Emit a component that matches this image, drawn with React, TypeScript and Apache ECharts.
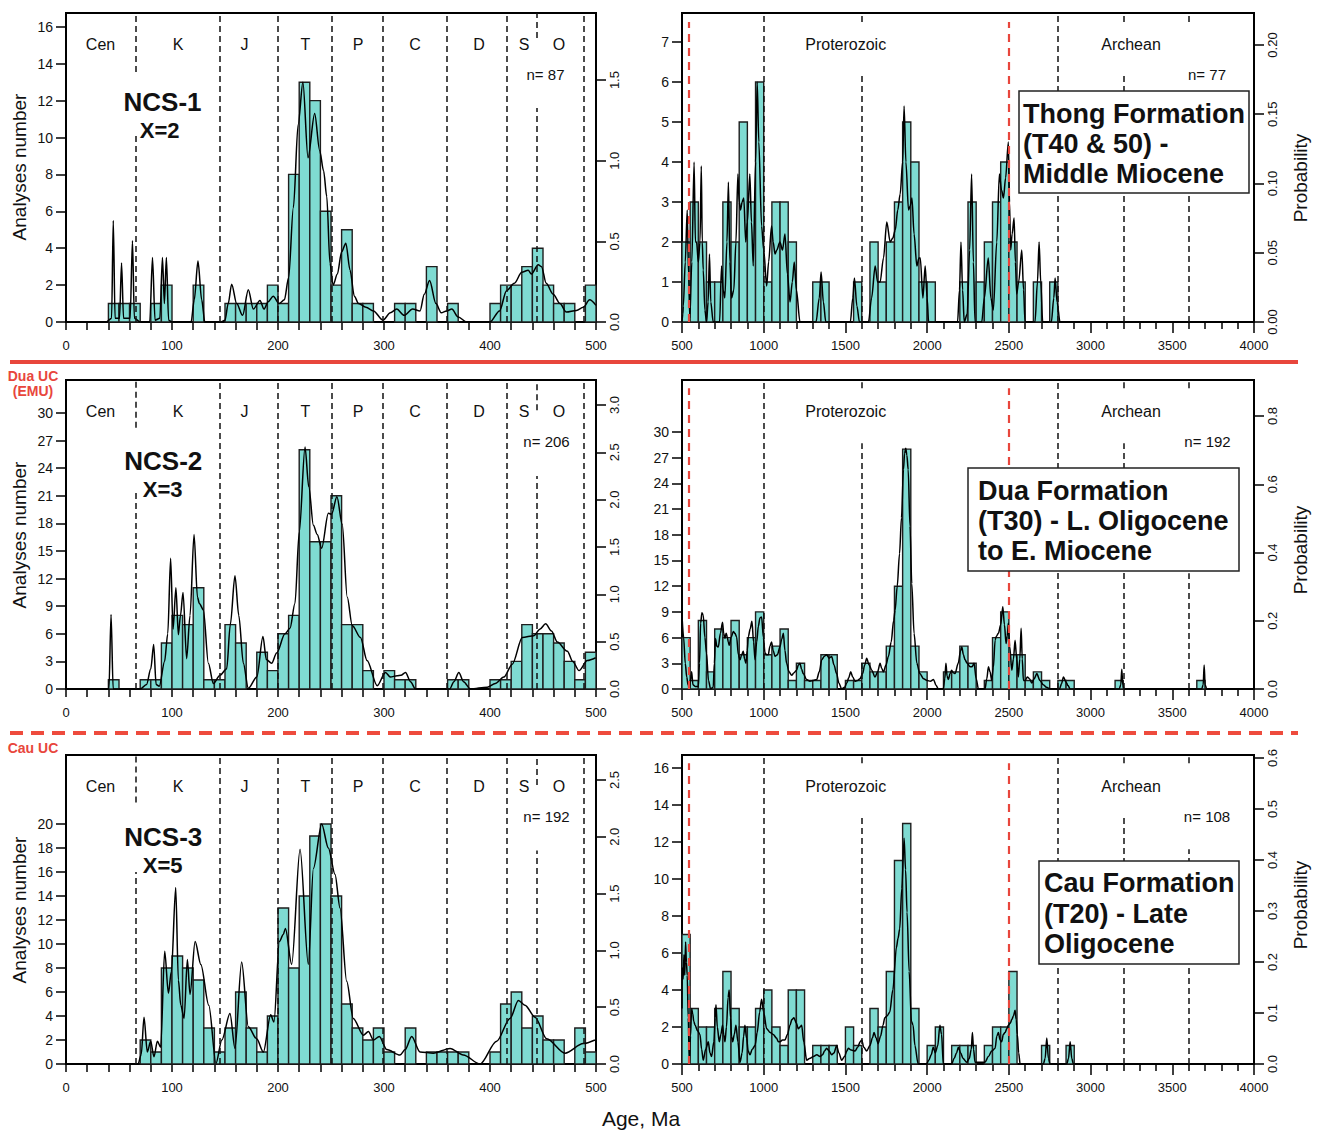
import React, { useEffect, useRef } from "react";
import * as echarts from "echarts";

const FONT = "'Liberation Sans', Arial, Helvetica, sans-serif";
const BAR_FILL = "#7fdbd2";
const BAR_STROKE = "#1e1e1e";
const RED = "#e8463c";

// ---------- tick labels ----------
const LEFT_AGE_LABELS = [0, 100, 200, 300, 400, 500];
const RIGHT_AGE_LABELS = [500, 1000, 1500, 2000, 2500, 3000, 3500, 4000];

const NCS1_COUNT_TICKS = [0, 2, 4, 6, 8, 10, 12, 14, 16];
const THONG_COUNT_TICKS = [0, 1, 2, 3, 4, 5, 6, 7];
const NCS2_COUNT_TICKS = [0, 3, 6, 9, 12, 15, 18, 21, 24, 27, 30];
const DUA_COUNT_TICKS = [0, 3, 6, 9, 12, 15, 18, 21, 24, 27, 30];
const NCS3_COUNT_TICKS = [0, 2, 4, 6, 8, 10, 12, 14, 16, 18, 20];
const CAU_COUNT_TICKS = [0, 2, 4, 6, 8, 10, 12, 14, 16];

const NCS1_PROB_TICKS = [0, 0.5, 1, 1.5];
const THONG_PROB_TICKS = [0, 0.05, 0.1, 0.15, 0.2];
const NCS2_PROB_TICKS = [0, 0.5, 1, 1.5, 2, 2.5, 3];
const DUA_PROB_TICKS = [0, 0.2, 0.4, 0.6, 0.8];
const NCS3_PROB_TICKS = [0, 0.5, 1, 1.5, 2, 2.5];
const CAU_PROB_TICKS = [0, 0.1, 0.2, 0.3, 0.4, 0.5, 0.6];

// ---------- time-scale boundaries (Ma) ----------
const PHANEROZOIC_BOUNDARIES = [65.5, 145.5, 199.6, 251, 299, 359.2, 416, 443.7, 488.3];
const PRECAMBRIAN_BOUNDARIES = [542, 1000, 1600, 2500, 2800, 3200, 3600];
const RED_BOUNDARIES = [542, 2500];
const PERIOD_NAMES = ["Cen", "K", "J", "T", "P", "C", "D", "S", "O"];
const EON_NAMES = ["Proterozoic", "Archean"];

// ---------- histogram bins (bin start age, count) ----------
const ncs1Starts = [40, 50, 60, 80, 90, 120, 150, 160, 170, 180, 190, 200, 210, 220, 230, 240, 250, 260, 270, 280, 310, 320, 340, 360, 400, 410, 420, 430, 440, 450, 460, 470, 490];
const ncs1Counts = [1, 1, 1, 1, 2, 2, 1, 1, 1, 1, 2, 1, 8, 13, 12, 6, 2, 5, 1, 1, 1, 1, 3, 1, 1, 2, 2, 3, 4, 2, 1, 1, 2];

const ncs2Starts = [40, 70, 80, 90, 100, 110, 120, 130, 140, 150, 160, 180, 190, 200, 210, 220, 230, 240, 250, 260, 270, 280, 300, 310, 320, 360, 370, 400, 410, 420, 430, 440, 450, 460, 470, 480, 490];
const ncs2Counts = [1, 1, 1, 5, 8, 7, 11, 1, 1, 7, 5, 4, 2, 6, 8, 26, 16, 16, 21, 7, 7, 2, 2, 1, 1, 1, 1, 1, 1, 3, 7, 6, 6, 5, 3, 1, 4];

const ncs3Starts = [70, 80, 90, 100, 110, 120, 130, 140, 150, 160, 170, 180, 190, 200, 210, 220, 230, 240, 250, 260, 270, 280, 290, 300, 320, 340, 350, 360, 370, 400, 410, 420, 430, 440, 450, 460, 480, 490];
const ncs3Counts = [2, 1, 8, 9, 8, 7, 3, 1, 3, 6, 3, 1, 4, 13, 8, 14, 19, 20, 14, 5, 3, 2, 3, 1, 3, 1, 1, 1, 1, 1, 5, 6, 3, 4, 2, 2, 3, 1];

const thongStarts = [500, 550, 600, 650, 700, 750, 800, 850, 900, 950, 1000, 1050, 1100, 1150, 1300, 1350, 1550, 1650, 1700, 1750, 1800, 1850, 1900, 1950, 2000, 2200, 2250, 2300, 2350, 2400, 2450, 2500, 2550, 2650, 2750];
const thongCounts = [2, 3, 2, 1, 1, 3, 2, 5, 3, 6, 1, 3, 3, 2, 1, 1, 1, 2, 1, 2, 3, 5, 4, 1, 1, 1, 3, 1, 2, 3, 4, 2, 1, 1, 1];

const duaStarts = [500, 550, 600, 650, 700, 750, 800, 850, 900, 950, 1000, 1050, 1100, 1150, 1200, 1250, 1300, 1350, 1400, 1500, 1550, 1600, 1650, 1700, 1750, 1800, 1850, 1900, 1950, 2100, 2150, 2200, 2250, 2350, 2400, 2450, 2500, 2550, 2600, 2650, 2700, 2800, 2850, 3150, 3650];
const duaCounts = [6, 1, 8, 2, 7, 6, 8, 4, 6, 9, 4, 5, 7, 1, 3, 1, 1, 4, 4, 1, 1, 3, 2, 2, 5, 12, 28, 5, 2, 2, 2, 5, 3, 1, 6, 9, 4, 4, 1, 2, 1, 1, 1, 1, 1];

const cauStarts = [500, 550, 600, 650, 700, 750, 800, 850, 900, 950, 1000, 1050, 1100, 1150, 1200, 1300, 1350, 1400, 1500, 1550, 1650, 1700, 1750, 1800, 1850, 1900, 2000, 2050, 2150, 2200, 2250, 2350, 2400, 2450, 2500, 2700, 2850];
const cauCounts = [7, 3, 2, 2, 3, 5, 3, 2, 2, 3, 4, 2, 1, 4, 4, 1, 1, 1, 2, 1, 3, 2, 5, 11, 13, 3, 1, 2, 1, 1, 1, 1, 2, 2, 5, 1, 1];

// ---------- probability-density curves (age, value read on count axis) ----------
const ncs1Curve = [[0,0],[38,0],[43,0.2],[44.6,5.5],[46.3,0.2],[50.5,0.2],[52.4,3.2],[54.3,0.2],[60.5,0.2],[62.7,4.4],[64.5,0.2],[70,0],[79,0],[81.6,3.5],[84,0.1],[88.5,0.2],[91,3.5],[92.8,1.0],[94.7,3.5],[96.8,0.1],[100,0],[118,0],[121,1.2],[124.5,3.3],[128,1.2],[131,0],[146,0],[150,0.1],[153,1.0],[156.3,2.05],[161,1.0],[166.6,0.36],[172,1.75],[176.7,0.7],[183,1.17],[186.8,0.7],[190.8,1.1],[195.5,1.4],[201,1.0],[206,1.2],[210,2.4],[214.5,6.2],[219,10.7],[223.5,13.0],[228.3,8.9],[234.6,11.3],[239.3,9.3],[243,8.2],[246,6.8],[249,3.2],[252,2.0],[256,2.6],[260,3.8],[264,4.27],[268,2.8],[272,1.4],[276,1.0],[283,0.8],[290,0.6],[299,0.1],[306,0.5],[312,0.7],[319,0.36],[327,0.7],[334,0.6],[338,1.5],[343,2.25],[349,1.0],[354,0.5],[359,0.6],[364,0.7],[370,0.27],[378,0],[400,0],[409,0.6],[415.6,1.7],[423,2.1],[430,2.7],[436,2.8],[439,2.6],[445.5,3.1],[448.6,3.0],[453,2.1],[459.6,1.5],[466,1.0],[472,0.54],[481.6,0.63],[488,0.8],[494,1.2],[500,0.9]];

const ncs2Curve = [[0,0],[40.5,0],[42.5,8.1],[44.5,0],[70,0],[76,0.5],[80,2.2],[82.7,4.85],[85,0.5],[88,0.3],[93,3.0],[96,6],[98.7,14.2],[101,6.5],[103.7,11.0],[106,5.9],[108,8],[110.4,10.5],[113.8,3.3],[117,8],[120.8,16.8],[124,10],[125.8,9.3],[129.6,8.6],[134.3,2.8],[139,0.6],[145.3,1.5],[151.6,2.2],[155,7],[159.4,12.3],[163,8],[167.3,2.8],[172,0.07],[180,1.3],[185.8,5.7],[189,3.2],[194,2.8],[198.7,3.9],[206.6,6],[211.3,6.6],[216,9.3],[220,17],[225.5,26.3],[229,22],[233.4,17.8],[237,16.8],[241.2,15.3],[247.5,19.1],[250.5,19.0],[255.6,20.9],[260.6,17.9],[265.3,10],[270,6.9],[277.8,5.6],[284,3.1],[293.6,0.36],[301.4,1.8],[306,1.3],[312.4,1.45],[316,1.5],[320.3,1.8],[325,0.8],[329.7,0],[362,0],[366,0.8],[370.6,1.8],[375,0.8],[381.6,0],[397.4,0.2],[405,0.6],[413.1,1.3],[421,2.7],[430.5,5.6],[441.5,5.8],[447,6.5],[452.5,7.1],[458,6.3],[463.5,5.1],[473,4.1],[478,3.0],[484,2.0],[491.8,3.1],[499.7,3.4]];

const ncs3Curve = [[0,0],[68,0],[71,0.8],[73.6,3.9],[76.7,1.0],[79.9,1.9],[83,0.6],[86.2,1.9],[89.3,1.4],[93.1,9.4],[96.6,5.9],[99.4,7.7],[103.5,14.7],[106,7],[108.3,4.9],[111.4,3.8],[114.5,8.7],[117,5.8],[121.8,10.2],[127.2,8.3],[134.7,4.9],[141.5,0.05],[147,2.0],[154.7,4.2],[159.4,1.3],[165.7,8.5],[172,3.1],[179.9,2.1],[186.2,1.0],[193.1,4.1],[196.2,3.5],[201.3,10.2],[205,10.8],[207,11.3],[212.9,8.3],[220.8,17.9],[228.6,8.3],[233.4,16.3],[241.2,20],[247.5,18],[253.8,15.8],[258.5,13],[264.8,6.9],[271,3.8],[280.5,2.4],[285.3,2.7],[290,2.0],[295.6,2.3],[302.6,1.2],[315.1,0.75],[320,1.2],[326.1,2.3],[334,1.0],[346.5,0.9],[362.3,1.3],[374.8,0.75],[390.6,0],[406.3,1.9],[418.9,3.8],[426.8,5.3],[433,4.9],[442.5,3.9],[453.5,2.1],[470.8,0.9],[488,1.7],[499,2]];

const thongCurve = [[500,0],[505,0.2],[508,0.4],[520,1.5],[532,2.8],[540,1.2],[548,0.1],[560,1.5],[574,4.0],[582,2.0],[589,2.0],[600,1.5],[610,2],[618,3.9],[624,2.0],[630,1.3],[640,0.3],[650,0],[660,0.5],[668,1.7],[676,0.5],[691,0],[730,0],[742,1.4],[752,0.8],[762,0.6],[775,2.0],[784,3.5],[793,1.5],[803,0.6],[817,0.8],[830,2],[842,3.7],[850,3.0],[858,2.8],[868,3.0],[878,3.1],[890,2.0],[900,2.5],[915,3.7],[925,2.5],[936,1.4],[950,4.0],[960,6.0],[970,4.5],[987,2.4],[1000,1.8],[1018,0.9],[1030,1.5],[1048,2.4],[1058,2.0],[1069,1.7],[1080,1.8],[1099,2.0],[1115,1.8],[1130,2.2],[1145,1.2],[1161,0.5],[1175,1.0],[1187,1.5],[1200,0.8],[1222,0],[1320,0],[1340,0.6],[1351,1.25],[1365,0.5],[1380,0],[1530,0],[1545,0.6],[1555,1.1],[1570,0.4],[1586,0],[1641,0],[1660,0.6],[1682,1.4],[1697,1.0],[1712,1.0],[1733,1.6],[1753,2.5],[1774,2.0],[1790,2.1],[1805,2.3],[1820,2.8],[1835,3.2],[1850,4.0],[1859,5.4],[1870,4.0],[1886,2.8],[1896,2.9],[1907,3.1],[1920,2.2],[1937,1.4],[1950,1.6],[1958,1.6],[1974,0.6],[1988,1.4],[2000,0.6],[2009,0],[2186,0],[2198,0.8],[2207,2.0],[2217,0.8],[2227,0],[2245,0.2],[2260,1.8],[2272,3.7],[2283,1.5],[2293,0],[2334,0],[2350,0.6],[2374,1.6],[2390,0.6],[2405,0.3],[2426,2.0],[2442,3.7],[2455,3.3],[2467,3.1],[2480,3.6],[2497,4.5],[2504,3.0],[2511,1.8],[2520,2.2],[2532,2.6],[2540,1.5],[2548,0.7],[2560,1.0],[2579,1.8],[2590,0.8],[2599,0],[2660,0],[2675,1.0],[2685,2.0],[2695,1.0],[2707,0],[2760,0],[2775,0.6],[2783,1.1],[2795,0.5],[2813,0],[4000,0]];

const duaCurve = [[500,8.6],[510,6],[520,3],[529,1.4],[537,0.5],[545,0],[552,1.0],[559,2],[567,0.5],[580,0.3],[600,0.3],[607,3],[614,7.7],[622,8.9],[630,8.6],[640,6],[650,4.2],[662,1],[675,0],[691,0.2],[698,3],[705,5.9],[713,5],[722,4.9],[735,6.5],[748,7.8],[755,6.5],[763,5.9],[770,6.5],[777,6.1],[783,5.5],[789,5.1],[800,6],[814,6.7],[824,6.5],[834,6.1],[845,4],[855,3.4],[865,4],[875,4.4],[883,3.5],[891,3.0],[899,4.5],[906,6.1],[917,7],[928,7.9],[938,5.5],[947,3.4],[957,5.5],[967,7.3],[977,8.3],[987,8.4],[998,6],[1008,4.2],[1018,4.0],[1028,4.0],[1038,5],[1048,5.5],[1058,4.5],[1069,3.8],[1084,4],[1099,4.9],[1110,5.8],[1120,6.5],[1130,4.5],[1140,3.0],[1155,2],[1171,1.6],[1186,1.9],[1201,2.2],[1212,2.8],[1222,3.0],[1232,2.3],[1242,1.8],[1262,1.1],[1283,0.9],[1304,1.0],[1324,1.1],[1340,2],[1355,3.4],[1370,3.8],[1385,4],[1400,3.6],[1416,3.8],[1430,2.8],[1446,1.8],[1460,0.7],[1477,0],[1495,0.2],[1508,0.7],[1520,1.3],[1532,2],[1545,1.4],[1559,0.9],[1575,1.0],[1589,1.2],[1605,1.8],[1618,2.8],[1630,3.6],[1645,2.8],[1661,2.2],[1681,1.4],[1697,2],[1712,3],[1722,2.4],[1733,2],[1748,2.8],[1763,3.8],[1780,5.5],[1795,8],[1804,9.2],[1817,12],[1831,15.8],[1843,20],[1855,25.6],[1862,27.5],[1869,28.1],[1876,27.3],[1884,25.6],[1895,19],[1906,12.3],[1920,6.5],[1937,3],[1955,1.8],[1978,1.2],[2000,1.0],[2020,0.9],[2039,1.1],[2055,0.4],[2069,0],[2099,0],[2108,1.2],[2115,3],[2122,1.5],[2130,1.1],[2140,1.8],[2150,2.2],[2160,1.9],[2171,1.8],[2190,3],[2205,4.5],[2212,4.9],[2222,4],[2232,3.4],[2245,3],[2263,2.6],[2275,2.6],[2287,3],[2300,1.2],[2314,0],[2354,0],[2365,1.2],[2375,2.6],[2385,2],[2395,1],[2405,2.5],[2416,5.7],[2422,6.1],[2436,6.5],[2450,7.5],[2463,9.6],[2473,7.5],[2483,5.3],[2490,6.2],[2497,7.7],[2505,5],[2518,2.2],[2528,3.5],[2538,5.7],[2548,3.5],[2558,1.4],[2567,3.5],[2575,7.1],[2582,3.5],[2589,1],[2600,1.0],[2613,1.4],[2626,1.2],[2640,0.7],[2655,1.2],[2671,1.8],[2690,1.0],[2711,0.5],[2730,0.2],[2752,0],[2810,0],[2822,0.6],[2834,1.4],[2850,0.8],[2862,0.4],[2875,0],[3175,0],[3185,0.5],[3191,2.3],[3197,0.5],[3205,0],[3680,0],[3689,0.5],[3695,2.8],[3701,0.5],[3711,0],[4000,0]];

const cauCurve = [[500,3],[502,5.2],[507,4.6],[512,5.9],[517,4.8],[522,6.6],[527,5.5],[532,4.8],[538,2.5],[545,0],[552,1.5],[559,3.0],[566,2.7],[572,2.3],[580,2.1],[595,1.8],[610,1.6],[620,0.8],[630,0.2],[645,0.8],[661,1.2],[671,0.6],[681,0.4],[695,1.2],[703,2.5],[708,3.2],[716,2],[728,1.2],[738,1.6],[748,2.1],[755,1.6],[763,1.2],[772,2.0],[782,3.6],[789,4.0],[797,2.5],[803,1.5],[810,1.2],[820,1.6],[830,2.1],[842,1.2],[855,0.1],[868,0.6],[877,1.5],[885,2.1],[895,1.4],[905,0.7],[916,0.5],[930,0.8],[947,1.0],[960,1.7],[975,2.8],[987,3.5],[1000,2.8],[1018,1.9],[1040,1.7],[1058,1.6],[1078,1.4],[1090,1.2],[1099,1.2],[1115,1.3],[1130,1.3],[1145,1.6],[1161,2.1],[1172,2.4],[1185,2.5],[1200,2.2],[1212,1.9],[1222,2.0],[1232,2.1],[1245,1.2],[1263,0.2],[1280,0.3],[1304,0.4],[1325,0.5],[1344,0.4],[1360,0.5],[1372,0.7],[1385,0.85],[1400,0.7],[1416,0.5],[1430,0.6],[1446,1.0],[1460,0.6],[1477,0.2],[1495,0.4],[1508,0.7],[1518,0.85],[1535,0.75],[1559,0.7],[1575,0.9],[1590,1.2],[1600,1.3],[1612,0.9],[1630,0.7],[1650,1.0],[1665,1.4],[1675,1.7],[1688,1.4],[1700,1.1],[1715,1.5],[1730,2.1],[1741,2.5],[1755,2.6],[1771,2.8],[1790,4.0],[1812,6.3],[1822,6.8],[1832,7.3],[1845,9.5],[1859,12.2],[1868,10.5],[1877,8.2],[1890,5],[1904,2.3],[1914,2.1],[1925,1.0],[1945,0],[1996,0],[2010,0.2],[2025,0.5],[2037,0.9],[2050,0.6],[2065,1.0],[2078,2.1],[2088,1.6],[2099,0],[2150,0],[2165,0.3],[2180,0.6],[2191,0.9],[2205,0.6],[2220,0.3],[2242,0.1],[2258,0.3],[2270,0.8],[2277,1.7],[2284,0.8],[2293,0.1],[2354,0.1],[2375,0.4],[2395,0.7],[2416,0.85],[2426,1.5],[2436,1.7],[2446,1.3],[2456,1.2],[2466,1.6],[2477,1.7],[2487,1.9],[2497,2.1],[2508,2.2],[2518,2.4],[2528,2.6],[2538,2.9],[2545,2.4],[2552,1.6],[2560,0.6],[2569,0],[2711,0],[2722,0.3],[2732,1.4],[2742,0.3],[2752,0],[2854,0],[2865,0.3],[2875,1.2],[2885,0.3],[2895,0],[4000,0]];

// ---------- panel layout ----------
const COL_L = { left: 66, width: 530 };
const COL_R = { left: 682, width: 572 };
const ROW_TOPS = [13, 380, 755];
const PLOT_H = 309;

const PANELS: any[] = [
  { col: COL_L, row: 0, side: "L", yMax: 16.75, yTicks: NCS1_COUNT_TICKS, pMax: 1.916, pTicks: NCS1_PROB_TICKS, pDec: 1, starts: ncs1Starts, counts: ncs1Counts, bin: 10, curve: ncs1Curve,
    gaps: { 65.5: [[0, 10.2], [13.55, 16.75]], 443.7: [[0, 11.6], [15.4, 16.75]] } },
  { col: COL_R, row: 0, side: "R", yMax: 7.725, yTicks: THONG_COUNT_TICKS, pMax: 0.2231, pTicks: THONG_PROB_TICKS, pDec: 2, starts: thongStarts, counts: thongCounts, bin: 50, curve: thongCurve,
    gaps: { 542: [[0, 7.5]], 1600: [[0, 6.18], [7.5, 7.725]], 2500: [[0, 7.5]], 3200: [[0, 6.15], [7.5, 7.725]], 3600: [[0, 5.55], [7.5, 7.725]] } },
  { col: COL_L, row: 1, side: "L", yMax: 33.59, yTicks: NCS2_COUNT_TICKS, pMax: 3.264, pTicks: NCS2_PROB_TICKS, pDec: 1, starts: ncs2Starts, counts: ncs2Counts, bin: 10, curve: ncs2Curve,
    gaps: { 65.5: [[0, 21.3], [28.4, 33.59]], 443.7: [[0, 23.15], [30.3, 33.59]] } },
  { col: COL_R, row: 1, side: "R", yMax: 36.07, yTicks: DUA_COUNT_TICKS, pMax: 0.9055, pTicks: DUA_PROB_TICKS, pDec: 1, starts: duaStarts, counts: duaCounts, bin: 50, curve: duaCurve,
    gaps: { 542: [[0, 35.1]], 1600: [[0, 28.7], [35.1, 36.07]], 2500: [[0, 35.1]], 3200: [[0, 28.7], [35.1, 36.07]], 3600: [[0, 13.5], [35.1, 36.07]] } },
  { col: COL_L, row: 2, side: "L", yMax: 25.75, yTicks: NCS3_COUNT_TICKS, pMax: 2.72, pTicks: NCS3_PROB_TICKS, pDec: 1, starts: ncs3Starts, counts: ncs3Counts, bin: 10, curve: ncs3Curve,
    gaps: { 65.5: [[0, 16.0], [21.8, 25.75]], 443.7: [[0, 17.8], [23.25, 25.75]] } },
  { col: COL_R, row: 2, side: "R", yMax: 16.7, yTicks: CAU_COUNT_TICKS, pMax: 0.606, pTicks: CAU_PROB_TICKS, pDec: 1, starts: cauStarts, counts: cauCounts, bin: 50, curve: cauCurve,
    gaps: { 542: [[0, 16.25]], 1600: [[0, 13.3], [16.25, 16.7]], 2500: [[0, 16.25]], 3200: [[0, 13.3], [16.25, 16.7]], 3600: [[0, 11.6], [16.25, 16.7]] } },
];

function buildOption() {
  const grid: any[] = [];
  const xAxis: any[] = [];
  const yAxis: any[] = [];
  const series: any[] = [];
  const axisLine = { show: true, onZero: false, lineStyle: { color: "#000", width: 2 } };
  const tickStyle = { color: "#000", width: 1.5 };
  const labelBase = { color: "#111", fontFamily: FONT };

  PANELS.forEach((p, i) => {
    const isL = p.side === "L";
    grid.push({ left: p.col.left, top: ROW_TOPS[p.row], width: p.col.width, height: PLOT_H, show: true, borderColor: "#000", borderWidth: 2, backgroundColor: "transparent", containLabel: false });
    xAxis.push({
      type: "value", gridIndex: i, min: isL ? 0 : 500, max: isL ? 500 : 4000, interval: isL ? 100 : 500,
      axisLine, splitLine: { show: false }, minorSplitLine: { show: false },
      axisTick: { show: true, length: isL ? 8 : 11, lineStyle: tickStyle },
      minorTick: { show: true, splitNumber: 5, length: isL ? 8 : 7, lineStyle: tickStyle },
      axisLabel: { ...labelBase, fontSize: 13, margin: 17, customValues: isL ? LEFT_AGE_LABELS : RIGHT_AGE_LABELS, formatter: (v: number) => String(Math.round(v)) },
    });
    yAxis.push({
      type: "value", gridIndex: i, position: "left", min: 0, max: p.yMax,
      axisLine, splitLine: { show: false },
      axisTick: { show: true, length: 10, lineStyle: tickStyle, customValues: p.yTicks },
      axisLabel: { ...labelBase, fontSize: 14, margin: 13, customValues: p.yTicks, formatter: (v: number) => String(Math.round(v)) },
    });
    yAxis.push({
      type: "value", gridIndex: i, position: "right", min: 0, max: p.pMax,
      axisLine, splitLine: { show: false },
      axisTick: { show: true, length: 10, lineStyle: tickStyle, customValues: p.pTicks },
      axisLabel: { ...labelBase, fontSize: 13, margin: 12, rotate: 90, customValues: p.pTicks, formatter: (v: number) => Number(v).toFixed(p.pDec) },
    });

    const bins = p.starts.map((s: number, k: number) => [s, s + p.bin, p.counts[k]]);
    series.push({
      type: "custom", coordinateSystem: "cartesian2d", xAxisIndex: i, yAxisIndex: 2 * i, silent: true, z: 2,
      encode: { x: [0, 1], y: 2 },
      data: bins,
      renderItem: (params: any, api: any) => {
        const a = api.coord([api.value(0), api.value(2)]);
        const b = api.coord([api.value(1), 0]);
        return { type: "rect", shape: { x: a[0], y: a[1], width: b[0] - a[0], height: b[1] - a[1] }, style: { fill: BAR_FILL, stroke: BAR_STROKE, lineWidth: 1.4 } };
      },
    });

    const bounds = isL ? PHANEROZOIC_BOUNDARIES : PRECAMBRIAN_BOUNDARIES;
    const ml: any[] = [];
    bounds.forEach((b: number) => {
      const segs = p.gaps[b] || [[0, p.yMax]];
      const red = RED_BOUNDARIES.includes(b) && !isL;
      segs.forEach((sg: number[]) => {
        ml.push([
          { coord: [b, sg[0]], lineStyle: red ? { color: RED, width: 2.2, type: [8, 6] } : { color: "#111", width: 1.5, type: [6, 4] } },
          { coord: [b, sg[1]] },
        ]);
      });
    });
    series.push({
      type: "line", xAxisIndex: i, yAxisIndex: 2 * i, data: p.curve, smooth: 0.3, smoothMonotone: "x", symbol: "none", silent: true, z: 3,
      lineStyle: { color: "#000", width: 1.5 },
      markLine: { silent: true, symbol: ["none", "none"], label: { show: false }, data: ml, animation: false },
    });
  });

  const graphics: any[] = [];
  const txt = (text: string, x: number, y: number, size: number, opts: any = {}) => {
    graphics.push({
      type: "text", x, y, rotation: opts.rotation || 0, z: 101,
      style: { text, fill: opts.fill || "#111", fontSize: size, fontFamily: opts.family || FONT, fontWeight: opts.bold ? "bold" : "normal", align: opts.align || "center", verticalAlign: "middle" },
    });
  };

  // separators between rows
  graphics.push({ type: "line", z: 100, shape: { x1: 10, y1: 362, x2: 1298, y2: 362 }, style: { stroke: RED, lineWidth: 4 } });
  graphics.push({ type: "line", z: 100, shape: { x1: 10, y1: 733, x2: 1298, y2: 733 }, style: { stroke: "#ee4b3d", lineWidth: 4, lineDash: [13, 8] } });
  const narrow = "'Liberation Sans Narrow', 'Liberation Sans', Arial, sans-serif";
  txt("Dua UC", 33, 376, 14, { bold: true, fill: RED, family: narrow });
  txt("(EMU)", 33, 391, 14, { bold: true, fill: RED, family: narrow });
  txt("Cau UC", 33, 748, 14, { bold: true, fill: RED, family: narrow });

  // axis titles
  [167, 535, 910].forEach((y) => txt("Analyses number", 19, y, 19, { rotation: Math.PI / 2 }));
  [178, 550, 905].forEach((y) => txt("Probability", 1300, y, 19, { rotation: Math.PI / 2 }));
  txt("Age, Ma", 641, 1118, 21);

  // period / eon labels
  const periodX = [100.5, 178, 244.5, 305.3, 358, 415, 479, 524, 559];
  const eonX = [845.7, 1131];
  [44, 411, 786].forEach((y) => {
    PERIOD_NAMES.forEach((n, k) => txt(n, periodX[k], y, 16));
    EON_NAMES.forEach((n, k) => txt(n, eonX[k], y, 16));
  });

  // sample sizes
  txt("n= 87", 545.5, 74, 15);
  txt("n= 77", 1207, 74, 15);
  txt("n= 206", 546.5, 441, 15);
  txt("n= 192", 1207.5, 441, 15);
  txt("n= 192", 546.5, 816, 15);
  txt("n= 108", 1207, 816, 15);

  // sample names
  txt("NCS-1", 162.5, 101.5, 26, { bold: true });
  txt("X=2", 159.7, 130.5, 22, { bold: true });
  txt("NCS-2", 163.3, 460.5, 26, { bold: true });
  txt("X=3", 162.7, 489, 22, { bold: true });
  txt("NCS-3", 163.3, 836.5, 26, { bold: true });
  txt("X=5", 162.7, 865.5, 22, { bold: true });

  // formation boxes
  const boxes = [
    { x: 1019, y: 91, w: 230, h: 102, tx: 1023, lines: ["Thong Formation", "(T40 & 50) -", "Middle Miocene"], ly: [113.5, 143.5, 173.5] },
    { x: 968, y: 468, w: 271, h: 103, tx: 978, lines: ["Dua Formation", "(T30) - L. Oligocene", "to E. Miocene"], ly: [490.5, 520.5, 550.5] },
    { x: 1039, y: 861, w: 200, h: 103, tx: 1044, lines: ["Cau Formation", "(T20) - Late", "Oligocene"], ly: [883, 913.5, 943.5] },
  ];
  boxes.forEach((b) => {
    graphics.push({ type: "rect", z: 100, shape: { x: b.x, y: b.y, width: b.w, height: b.h }, style: { fill: "#fff", stroke: "#222", lineWidth: 1.5 } });
    b.lines.forEach((l, k) => txt(l, b.tx, b.ly[k], 27, { bold: true, align: "left" }));
  });

  return { animation: false, backgroundColor: "#fff", grid, xAxis, yAxis, series, graphic: { elements: graphics } };
}

export default function App() {
  const ref = useRef<HTMLDivElement>(null);
  useEffect(() => {
    if (!ref.current) return;
    const chart = echarts.init(ref.current, undefined, { renderer: "svg" });
    chart.setOption(buildOption() as any);
    return () => chart.dispose();
  }, []);
  return <div ref={ref} style={{ position: "absolute", left: 0, top: 0, width: 1320, height: 1130, background: "#fff" }} />;
}
